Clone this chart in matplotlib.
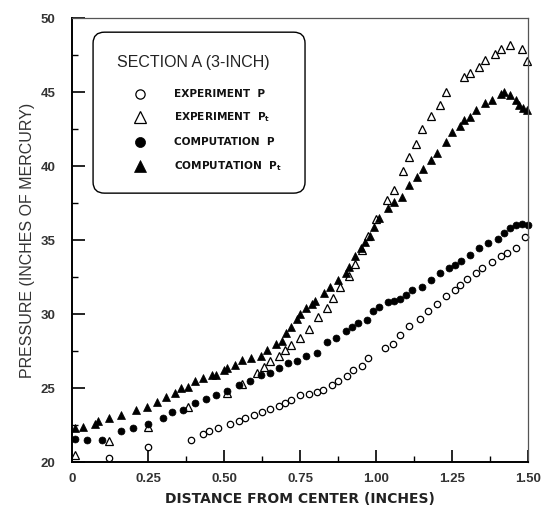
import numpy as np
import matplotlib
matplotlib.use("Agg")
import matplotlib.pyplot as plt
from matplotlib.patches import FancyBboxPatch

plt.rcParams['font.family'] = ['Liberation Sans', 'DejaVu Sans']
plt.rcParams['mathtext.fontset'] = 'custom'
plt.rcParams['mathtext.rm'] = 'DejaVu Sans:bold'
plt.rcParams['mathtext.it'] = 'DejaVu Sans:bold'

# experiment, static pressure P
exp_p_x = [0.12, 0.25, 0.39, 0.43, 0.45, 0.48, 0.52, 0.55, 0.57, 0.60, 0.625, 0.65, 0.68,
           0.70, 0.72, 0.75, 0.78, 0.805, 0.825, 0.855, 0.875, 0.905, 0.925, 0.955, 0.975,
           1.03, 1.055, 1.08, 1.11, 1.145, 1.17, 1.20, 1.23, 1.26, 1.275, 1.30, 1.33, 1.35,
           1.38, 1.41, 1.43, 1.46, 1.49]
exp_p_y = [20.3, 21.0, 21.5, 21.9, 22.1, 22.3, 22.6, 22.8, 23.0, 23.2, 23.4, 23.6, 23.8,
           24.0, 24.2, 24.5, 24.6, 24.75, 24.9, 25.2, 25.5, 25.8, 26.2, 26.5, 27.0,
           27.7, 28.0, 28.6, 29.2, 29.7, 30.2, 30.7, 31.2, 31.6, 32.0, 32.4, 32.8, 33.1,
           33.5, 33.9, 34.1, 34.5, 35.2]

# experiment, total pressure Pt
exp_pt_x = [0.01, 0.12, 0.25, 0.38, 0.51, 0.56, 0.61, 0.63, 0.65, 0.68, 0.70, 0.72, 0.75,
            0.78, 0.81, 0.84, 0.86, 0.88, 0.91, 0.93, 0.955, 0.975, 1.0, 1.035, 1.06, 1.09,
            1.11, 1.13, 1.15, 1.18, 1.21, 1.23, 1.29, 1.31, 1.34, 1.36, 1.39, 1.41, 1.44,
            1.48, 1.497]
exp_pt_y = [20.5, 21.4, 22.4, 23.7, 24.7, 25.3, 26.0, 26.4, 26.8, 27.2, 27.6, 27.9, 28.4,
            29.0, 29.8, 30.4, 31.1, 31.8, 32.6, 33.4, 34.3, 35.3, 36.4, 37.7, 38.4, 39.7,
            40.6, 41.5, 42.5, 43.4, 44.1, 45.0, 46.0, 46.3, 46.7, 47.2, 47.6, 47.9, 48.2,
            47.9, 47.1]

# computation, static pressure P
comp_p_x = [0.01, 0.05, 0.10, 0.16, 0.20, 0.25, 0.30, 0.33, 0.365, 0.405, 0.44, 0.475,
            0.51, 0.55, 0.585, 0.62, 0.65, 0.68, 0.71, 0.74, 0.77, 0.805, 0.84, 0.87, 0.90,
            0.92, 0.94, 0.97, 0.99, 1.01, 1.04, 1.06, 1.08, 1.10, 1.12, 1.15, 1.18, 1.21,
            1.24, 1.26, 1.28, 1.31, 1.34, 1.37, 1.40, 1.42, 1.44, 1.46, 1.48, 1.50]
comp_p_y = [21.55, 21.5, 21.5, 22.1, 22.3, 22.6, 23.0, 23.4, 23.5, 24.0, 24.25, 24.5,
            24.8, 25.2, 25.5, 25.9, 26.0, 26.35, 26.7, 26.8, 27.2, 27.4, 28.1, 28.4, 28.85,
            29.1, 29.4, 29.6, 30.2, 30.5, 30.8, 30.9, 31.0, 31.3, 31.6, 31.8, 32.3, 32.8,
            33.1, 33.3, 33.6, 34.0, 34.5, 34.8, 35.1, 35.5, 35.8, 36.0, 36.1, 36.0]

# computation, total pressure Pt
comp_pt_x = [0.01, 0.035, 0.075, 0.085, 0.12, 0.16, 0.21, 0.245, 0.28, 0.31, 0.34, 0.36,
             0.38, 0.405, 0.43, 0.46, 0.475, 0.50, 0.51, 0.535, 0.56, 0.59, 0.62, 0.64,
             0.67, 0.69, 0.705, 0.72, 0.74, 0.75, 0.77, 0.79, 0.80, 0.83, 0.85, 0.875,
             0.90, 0.91, 0.93, 0.95, 0.965, 0.98, 0.995, 1.01, 1.04, 1.06, 1.085, 1.11,
             1.135, 1.155, 1.18, 1.20, 1.23, 1.25, 1.275, 1.29, 1.31, 1.33, 1.36, 1.38,
             1.41, 1.42, 1.44, 1.46, 1.47, 1.485, 1.497]
comp_pt_y = [22.3, 22.4, 22.6, 22.8, 23.0, 23.2, 23.5, 23.7, 24.05, 24.4, 24.7, 25.0,
             25.1, 25.5, 25.7, 25.9, 25.9, 26.2, 26.35, 26.55, 26.9, 27.0, 27.2, 27.6,
             28.0, 28.2, 28.7, 29.1, 29.7, 30.0, 30.4, 30.7, 30.9, 31.4, 31.8, 32.3,
             32.8, 33.2, 33.9, 34.5, 34.9, 35.3, 35.9, 36.5, 37.2, 37.6, 37.9, 38.7,
             39.3, 39.8, 40.4, 40.9, 41.6, 42.3, 42.7, 43.1, 43.3, 43.8, 44.3, 44.5,
             44.9, 45.0, 44.8, 44.5, 44.1, 43.9, 43.8]

x_ticks = [0, 0.25, 0.50, 0.75, 1.00, 1.25, 1.50]
x_ticklabels = ['0', '0.25', '0.50', '0.75', '1.00', '1.25', '1.50']
y_ticks = [20, 25, 30, 35, 40, 45, 50]

legend_title = 'SECTION A (3-INCH)'
legend_labels = ['EXPERIMENT  P', 'EXPERIMENT  P$_t$', 'COMPUTATION  P', 'COMPUTATION  P$_t$']

fig = plt.figure(figsize=(5.46, 5.05), dpi=100)
ax = fig.add_axes([0.132, 0.085, 0.835, 0.879])

styles = [
    dict(marker='o', ms=4.6, mfc='white', mec='black', mew=0.9),
    dict(marker='^', ms=5.6, mfc='white', mec='black', mew=0.9),
    dict(marker='o', ms=5.0, mfc='black', mec='black', mew=0.5),
    dict(marker='^', ms=6.0, mfc='black', mec='black', mew=0.5),
]
series = [(exp_p_x, exp_p_y), (exp_pt_x, exp_pt_y), (comp_p_x, comp_p_y), (comp_pt_x, comp_pt_y)]
for (xs, ys), st in zip(series, styles):
    ax.plot(xs, ys, ls='none', clip_on=False, **st)

ax.set_xlim(0, 1.5)
ax.set_ylim(20, 50)
ax.set_xticks(x_ticks)
ax.set_xticklabels(x_ticklabels)
ax.set_yticks(y_ticks)
ax.set_xticks(np.arange(0.125, 1.5, 0.25), minor=True)
ax.set_yticks(np.arange(22.5, 50, 5), minor=True)
ax.tick_params(which='major', direction='in', length=9, width=1.2, top=False, right=False,
               labelsize=9.5, labelcolor='#333333')
ax.tick_params(axis='y', which='major', pad=12)
ax.tick_params(axis='x', which='major', pad=8)
ax.tick_params(which='minor', direction='in', length=4, width=1.0, top=False, right=False)
for lab in ax.get_xticklabels() + ax.get_yticklabels():
    lab.set_fontweight('bold')

for s in ['left', 'bottom']:
    ax.spines[s].set_linewidth(1.4)
for s in ['top', 'right']:
    ax.spines[s].set_linewidth(0.9)
    ax.spines[s].set_color('#555555')

ax.set_xlabel('DISTANCE FROM CENTER (INCHES)', fontsize=10, fontweight='bold',
              family='DejaVu Sans', color='#222222', labelpad=5)
ax.set_ylabel('PRESSURE (INCHES OF MERCURY)', fontsize=11.5, color='#333333', labelpad=4)

# legend box drawn in axes fraction
def fx(px):
    return (px - 72) / 456.0

def fy(py):
    return (462 - py) / 444.0

box = FancyBboxPatch((fx(93), fy(193)), fx(305) - fx(93), fy(32) - fy(193),
                     boxstyle='round,pad=0,rounding_size=0.025', transform=ax.transAxes,
                     facecolor='white', edgecolor='black', lw=1.0, zorder=5)
ax.add_patch(box)
ax.text(fx(117), fy(62), legend_title, transform=ax.transAxes, fontsize=11.5,
        color='#222222', va='center', ha='left', zorder=6)
row_y = [94, 117, 142, 166]
for st, lab, ry in zip(styles, legend_labels, row_y):
    big = dict(st)
    big['ms'] = st['ms'] * 1.45
    ax.plot([fx(140)], [fy(ry)], transform=ax.transAxes, ls='none', zorder=6, **big)
    ax.text(fx(174), fy(ry), lab, transform=ax.transAxes, fontsize=7.6, fontweight='bold',
            family='DejaVu Sans', color='#111111', va='center', ha='left', zorder=6)

fig.savefig('out.png', dpi=100)
